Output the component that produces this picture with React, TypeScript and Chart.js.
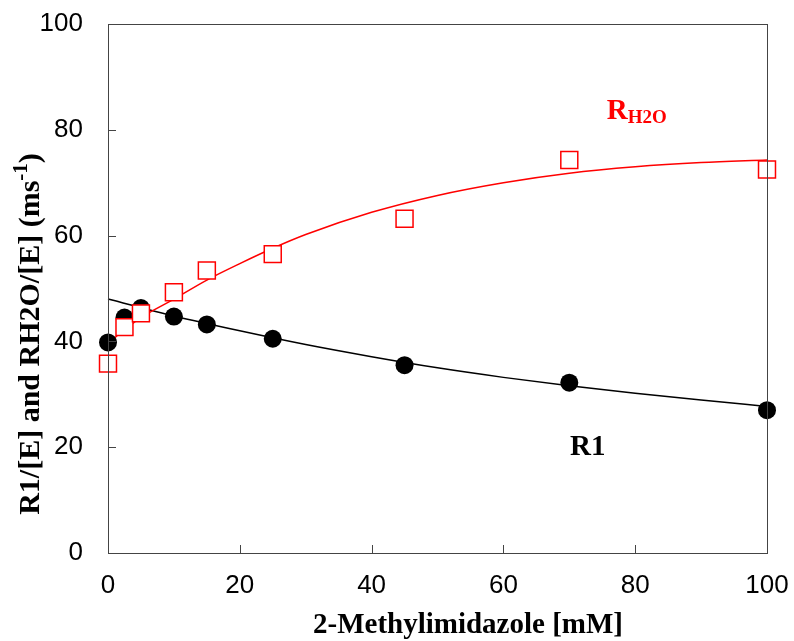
import React, { useEffect, useRef } from "react";
import { Chart, registerables } from "chart.js";

Chart.register(...registerables);

// Measured data
const concX = [0, 2.5, 5, 10, 15, 25, 45, 70, 100];
const r1Values = [39.8, 44.5, 46.3, 44.7, 43.2, 40.5, 35.5, 32.2, 27.0];
const rh2oValues = [35.8, 42.7, 45.3, 49.3, 53.4, 56.5, 63.2, 74.3, 72.5];

// Fitted curves
const r1FitX = [0, 10, 20, 30, 40, 50, 60, 70, 80, 90, 100];
const r1FitY = [48.0, 44.8, 42.0, 39.4, 37.1, 35.0, 33.2, 31.6, 30.2, 28.9, 27.7];
const rh2oFitX = [0, 2.5, 5, 10, 15, 20, 25, 30, 40, 50, 60, 70, 80, 90, 100];
const rh2oFitY = [39.6, 42.2, 44.5, 48.0, 51.6, 54.7, 57.6, 60.2, 64.4, 67.6, 70.0, 71.8, 73.0, 73.8, 74.3];

const xTicks = [0, 20, 40, 60, 80, 100];
const yTicks = [0, 20, 40, 60, 80, 100];

const xTitle = "2-Methylimidazole [mM]";
const yTitleMain = "R1/[E] and RH2O/[E] (ms";
const yTitleSup = "-1";
const yTitleEnd = ")";

const toPts = (xs: number[], ys: number[]) => xs.map((x, i) => ({ x, y: ys[i] }));

const SERIF = "'Liberation Serif', 'Times New Roman', serif";
const SANS = "'Liberation Sans', Arial, sans-serif";

const framePlugin = {
  id: "frame",
  afterDraw(chart: any) {
    const { ctx, chartArea: a, scales } = chart;
    const xs = scales.x;
    const ys = scales.y;
    ctx.save();
    ctx.strokeStyle = "#444";
    ctx.lineWidth = 1;
    ctx.strokeRect(Math.round(a.left) + 0.5, Math.round(a.top) + 0.5, Math.round(a.right - a.left), Math.round(a.bottom - a.top));
    ctx.beginPath();
    xTicks.forEach((v) => {
      const px = Math.round(xs.getPixelForValue(v)) + 0.5;
      ctx.moveTo(px, a.bottom);
      ctx.lineTo(px, a.bottom - 8);
    });
    yTicks.forEach((v) => {
      const py = Math.round(ys.getPixelForValue(v)) + 0.5;
      ctx.moveTo(a.left, py);
      ctx.lineTo(a.left + 8, py);
    });
    ctx.stroke();

    // x title
    ctx.fillStyle = "#000";
    ctx.font = `bold 29px ${SERIF}`;
    ctx.textAlign = "center";
    ctx.textBaseline = "alphabetic";
    ctx.fillText(xTitle, 468, 633);

    // y title with superscript
    ctx.save();
    ctx.translate(39, 334);
    ctx.rotate(-Math.PI / 2);
    ctx.textAlign = "left";
    const mainFont = `bold 30px ${SERIF}`;
    const supFont = `bold 21px ${SERIF}`;
    ctx.font = mainFont;
    const w1 = ctx.measureText(yTitleMain).width;
    const w3 = ctx.measureText(yTitleEnd).width;
    ctx.font = supFont;
    const w2 = ctx.measureText(yTitleSup).width;
    const total = w1 + w2 + w3;
    let sx = -total / 2;
    ctx.font = mainFont;
    ctx.fillText(yTitleMain, sx, 0);
    sx += w1;
    ctx.font = supFont;
    ctx.fillText(yTitleSup, sx, -12);
    sx += w2;
    ctx.font = mainFont;
    ctx.fillText(yTitleEnd, sx, 0);
    ctx.restore();

    // annotations
    ctx.textAlign = "left";
    ctx.fillStyle = "#ff0000";
    ctx.font = `bold 29px ${SERIF}`;
    const ax = xs.getPixelForValue(75.7);
    const ay = ys.getPixelForValue(82.0);
    ctx.fillText("R", ax, ay);
    const rw = ctx.measureText("R").width;
    ctx.font = `bold 19px ${SERIF}`;
    ctx.fillText("H2O", ax + rw, ay + 4);

    ctx.fillStyle = "#000";
    ctx.font = `bold 29px ${SERIF}`;
    ctx.fillText("R1", xs.getPixelForValue(70.1), ys.getPixelForValue(18.5));
    ctx.restore();
  },
};

export default function App() {
  const ref = useRef<HTMLCanvasElement | null>(null);
  useEffect(() => {
    document.body.style.margin = "0";
    if (!ref.current) return;
    const chart = new Chart(ref.current, {
      type: "scatter",
      data: {
        datasets: [
          {
            label: "R1 fit",
            data: toPts(r1FitX, r1FitY),
            showLine: true,
            borderColor: "#000",
            borderWidth: 1.5,
            pointRadius: 0,
            cubicInterpolationMode: "monotone",
            clip: false,
            order: 4,
          },
          {
            label: "RH2O fit",
            data: toPts(rh2oFitX, rh2oFitY),
            showLine: true,
            borderColor: "#ff0000",
            borderWidth: 1.5,
            pointRadius: 0,
            cubicInterpolationMode: "monotone",
            clip: false,
            order: 3,
          },
          {
            label: "R1",
            data: toPts(concX, r1Values),
            pointStyle: "circle",
            pointRadius: 9,
            backgroundColor: "#000",
            borderColor: "#000",
            borderWidth: 0,
            clip: false,
            order: 2,
          },
          {
            label: "RH2O",
            data: toPts(concX, rh2oValues),
            pointStyle: "rect",
            pointRadius: 12,
            backgroundColor: "#fff",
            borderColor: "#ff0000",
            borderWidth: 1.5,
            clip: false,
            order: 1,
          },
        ] as any,
      },
      options: {
        animation: false,
        responsive: false,
        layout: { padding: { left: 0, top: 24, right: 27, bottom: 0 } },
        plugins: { legend: { display: false }, tooltip: { enabled: false } },
        scales: {
          x: {
            type: "linear",
            min: 0,
            max: 100,
            afterFit: (s: any) => {
              s.height = 88;
              s.paddingLeft = 0;
              s.paddingRight = 0;
            },
            afterBuildTicks: (s: any) => {
              s.ticks = xTicks.map((v) => ({ value: v }));
            },
            grid: { display: false, drawTicks: false },
            border: { display: false },
            ticks: { color: "#000", font: { family: SANS, size: 26 }, padding: 17, maxRotation: 0 },
          },
          y: {
            type: "linear",
            min: 0,
            max: 100,
            afterFit: (s: any) => {
              s.width = 108;
              s.paddingTop = 0;
              s.paddingBottom = 0;
            },
            afterBuildTicks: (s: any) => {
              s.ticks = yTicks.map((v) => ({ value: v }));
            },
            grid: { display: false, drawTicks: false },
            border: { display: false },
            ticks: { color: "#000", font: { family: SANS, size: 26 }, padding: 25 },
          },
        },
      },
      plugins: [framePlugin],
    } as any);
    return () => chart.destroy();
  }, []);
  return <canvas ref={ref} width={794} height={641} style={{ display: "block" }} />;
}
